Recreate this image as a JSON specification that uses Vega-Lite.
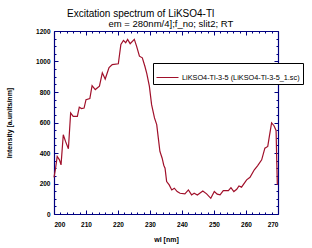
{
  "$schema": "https://vega.github.io/schema/vega-lite/v6.json",
  "width": 224,
  "height": 183,
  "autosize": {"type": "none"},
  "padding": {"left": 54, "top": 31, "right": 34, "bottom": 34},
  "background": "white",
  "title": {
    "text": "Excitation spectrum of LiKSO4-Tl",
    "anchor": "start", "align": "left", "frame": "group", "dx": 13, "offset": -1,
    "fontSize": 10, "font": "Liberation Sans", "fontWeight": "normal", "color": "black"
  },
  "data": {"values": [
    {"wl": 200.0, "v": 240}, {"wl": 200.5, "v": 300}, {"wl": 201.0, "v": 377}, {"wl": 201.7, "v": 355},
    {"wl": 202.2, "v": 322}, {"wl": 202.9, "v": 520}, {"wl": 203.6, "v": 476}, {"wl": 204.5, "v": 428},
    {"wl": 205.2, "v": 663}, {"wl": 206.0, "v": 640}, {"wl": 207.3, "v": 640}, {"wl": 207.9, "v": 700},
    {"wl": 208.6, "v": 691}, {"wl": 209.4, "v": 695}, {"wl": 210.0, "v": 750}, {"wl": 211.2, "v": 757},
    {"wl": 211.9, "v": 842}, {"wl": 212.9, "v": 816}, {"wl": 214.2, "v": 838}, {"wl": 215.1, "v": 926},
    {"wl": 216.0, "v": 885}, {"wl": 217.2, "v": 960}, {"wl": 218.2, "v": 980}, {"wl": 220.1, "v": 985},
    {"wl": 220.9, "v": 1112}, {"wl": 221.7, "v": 1138}, {"wl": 222.4, "v": 1123}, {"wl": 223.0, "v": 1145},
    {"wl": 223.8, "v": 1117}, {"wl": 225.1, "v": 1145}, {"wl": 225.8, "v": 1101}, {"wl": 226.7, "v": 1035},
    {"wl": 227.6, "v": 1024}, {"wl": 228.4, "v": 969}, {"wl": 229.0, "v": 920}, {"wl": 229.8, "v": 838},
    {"wl": 230.5, "v": 717}, {"wl": 231.4, "v": 630}, {"wl": 232.1, "v": 586}, {"wl": 232.6, "v": 498},
    {"wl": 233.1, "v": 410}, {"wl": 233.8, "v": 366}, {"wl": 234.3, "v": 320}, {"wl": 234.7, "v": 300},
    {"wl": 235.2, "v": 213}, {"wl": 236.0, "v": 191}, {"wl": 236.8, "v": 158}, {"wl": 237.6, "v": 169},
    {"wl": 238.5, "v": 147}, {"wl": 239.4, "v": 136}, {"wl": 240.9, "v": 132}, {"wl": 242.0, "v": 158},
    {"wl": 243.0, "v": 125}, {"wl": 243.8, "v": 136}, {"wl": 244.8, "v": 125}, {"wl": 246.5, "v": 151},
    {"wl": 247.7, "v": 132}, {"wl": 249.0, "v": 103}, {"wl": 250.1, "v": 147}, {"wl": 251.0, "v": 130},
    {"wl": 251.9, "v": 125}, {"wl": 252.9, "v": 153}, {"wl": 254.5, "v": 153}, {"wl": 255.3, "v": 173},
    {"wl": 256.2, "v": 147}, {"wl": 257.1, "v": 162}, {"wl": 257.8, "v": 184}, {"wl": 258.6, "v": 176},
    {"wl": 260.2, "v": 224}, {"wl": 261.25, "v": 241}, {"wl": 262.6, "v": 290}, {"wl": 263.6, "v": 316},
    {"wl": 264.9, "v": 355}, {"wl": 265.9, "v": 432}, {"wl": 266.8, "v": 443}, {"wl": 267.3, "v": 509},
    {"wl": 268.0, "v": 597}, {"wl": 268.75, "v": 579}, {"wl": 269.4, "v": 548}, {"wl": 269.6, "v": 355},
    {"wl": 269.8, "v": 191}
  ]},
  "layer": [
    {
      "mark": {"type": "line", "strokeWidth": 1.2},
      "encoding": {
        "x": {"field": "wl", "type": "quantitative", "scale": {"domain": [200, 270], "nice": false, "zero": false},
          "axis": {"orient": "bottom", "values": [200, 210, 220, 230, 240, 250, 260, 270], "ticks": false, "domainColor": "#000080", "domainWidth": 1.2,
            "labelFontSize": 6.5, "labelFontWeight": "bold", "labelPadding": 7, "labelColor": "black",
            "title": "wl [nm]", "titleFontSize": 7, "titleFontWeight": "bold", "titlePadding": 8, "titleColor": "black"}},
        "y": {"field": "v", "type": "quantitative", "scale": {"domain": [0, 1200], "nice": false},
          "axis": {"orient": "left", "values": [0, 200, 400, 600, 800, 1000, 1200], "format": "d", "ticks": false, "domainColor": "#000080", "domainWidth": 1.2,
            "labelFontSize": 6.5, "labelFontWeight": "bold", "labelPadding": 4, "labelColor": "black",
            "title": "Intensity [a.units/nm]", "titleFontSize": 7, "titleFontWeight": "bold", "titlePadding": 23, "titleColor": "black"}},
        "color": {"datum": "LiKSO4-Tl-3-5 (LiKSO4-Tl-3-5_1.sc)", "scale": {"range": ["#a0102a"]},
          "legend": {"orient": "none", "legendX": 99, "legendY": 32, "title": null, "strokeColor": "black", "fillColor": "white",
            "padding": 3, "symbolType": "stroke", "symbolSize": 484, "symbolStrokeWidth": 1, "labelFontSize": 7.3,
            "labelFont": "Liberation Sans", "labelLimit": 300, "labelOffset": 3}}
      }
    },
    {
      "mark": {"type": "line", "strokeOpacity": 0},
      "encoding": {
        "x": {"field": "wl", "type": "quantitative",
          "axis": {"orient": "bottom", "values": [200, 210, 220, 230, 240, 250, 260, 270], "tickSize": -4, "tickColor": "#000080", "labels": false, "domain": false, "title": null}},
        "y": {"field": "v", "type": "quantitative",
          "axis": {"orient": "left", "values": [0, 200, 400, 600, 800, 1000, 1200], "tickSize": -4, "tickColor": "#000080", "labels": false, "domain": false, "title": null}}
      }
    },
    {
      "mark": {"type": "line", "strokeOpacity": 0},
      "encoding": {
        "x": {"field": "wl", "type": "quantitative",
          "axis": {"orient": "bottom", "values": [202, 204, 206, 208, 212, 214, 216, 218, 222, 224, 226, 228, 232, 234, 236, 238, 242, 244, 246, 248, 252, 254, 256, 258, 262, 264, 266, 268], "tickSize": -2, "tickColor": "#000080", "labels": false, "domain": false, "title": null}},
        "y": {"field": "v", "type": "quantitative",
          "axis": {"orient": "left", "values": [50, 100, 150, 250, 300, 350, 450, 500, 550, 650, 700, 750, 850, 900, 950, 1050, 1100, 1150], "tickSize": -2, "tickColor": "#000080", "labels": false, "domain": false, "title": null}}
      }
    },
    {
      "mark": {"type": "line", "strokeOpacity": 0},
      "encoding": {
        "x": {"field": "wl", "type": "quantitative",
          "axis": {"orient": "top", "values": [200, 210, 220, 230, 240, 250, 260, 270], "tickSize": -4, "tickColor": "#000080", "labels": false, "domainColor": "#000080", "domainWidth": 1.2,
            "title": "em = 280nm/4];f_no; slit2; RT", "titleX": 54, "titleY": -5, "titleAlign": "left", "titleAnchor": "start", "titleBaseline": "alphabetic",
            "titleFont": "Liberation Sans", "titleFontSize": 9.5, "titleFontWeight": "normal", "titleColor": "black"}},
        "y": {"field": "v", "type": "quantitative",
          "axis": {"orient": "right", "values": [0, 200, 400, 600, 800, 1000, 1200], "tickSize": -4, "tickColor": "#000080", "labels": false, "domainColor": "#000080", "domainWidth": 1.2, "title": null}}
      }
    },
    {
      "mark": {"type": "line", "strokeOpacity": 0},
      "encoding": {
        "x": {"field": "wl", "type": "quantitative",
          "axis": {"orient": "top", "values": [202, 204, 206, 208, 212, 214, 216, 218, 222, 224, 226, 228, 232, 234, 236, 238, 242, 244, 246, 248, 252, 254, 256, 258, 262, 264, 266, 268], "tickSize": -2, "tickColor": "#000080", "labels": false, "domain": false, "title": null}},
        "y": {"field": "v", "type": "quantitative",
          "axis": {"orient": "right", "values": [50, 100, 150, 250, 300, 350, 450, 500, 550, 650, 700, 750, 850, 900, 950, 1050, 1100, 1150], "tickSize": -2, "tickColor": "#000080", "labels": false, "domain": false, "title": null}}
      }
    }
  ],
  "resolve": {"axis": {"x": "independent", "y": "independent"}},
  "config": {
    "view": {"stroke": null},
    "axis": {"grid": false, "labelFont": "Liberation Sans", "titleFont": "Liberation Sans"}
  }
}
